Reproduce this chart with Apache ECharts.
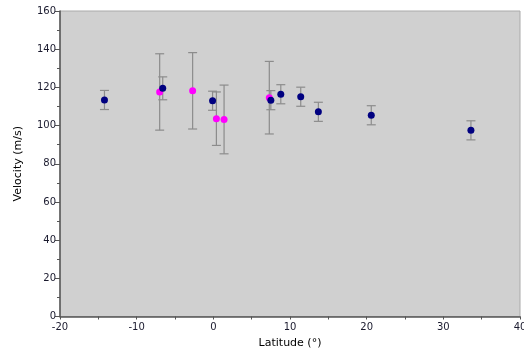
<!DOCTYPE html>
<html><head><meta charset="utf-8">
<script src="https://cdn.jsdelivr.net/npm/echarts@6/dist/echarts.min.js"></script>
<style>html,body{margin:0;padding:0;background:#fff}#c{width:524px;height:360px}</style>
</head><body><div id="c"></div>
<script>
// Navy series
var navyLat = [-14.2, -6.6, -0.1, 7.5, 8.8, 11.4, 13.7, 20.6, 33.6];
var navyVel = [113.4, 119.5, 113.0, 113.3, 116.4, 115.1, 107.2, 105.4, 97.5];
var navyErr = [5, 6, 5, 5, 5, 5, 5, 5, 5];
// Magenta series
var magLat = [-7.0, -2.7, 0.4, 1.4, 7.3];
var magVel = [117.6, 118.2, 103.6, 103.2, 114.6];
var magErr = [20, 20, 14, 18, 19];

var xTicks = [-20, -10, 0, 10, 20, 30, 40];
var yTicks = [0, 20, 40, 60, 80, 100, 120, 140, 160];

function pts(lat, vel){ return lat.map(function(x,i){return [x, vel[i]];}); }
function errData(lat, vel, err){ return lat.map(function(x,i){return [x, vel[i]-err[i], vel[i]+err[i]];}); }

function errSeries(data){
  return {
    type:'custom', data:data, z:1, silent:true,
    renderItem:function(params, api){
      var lo = api.coord([api.value(0), api.value(1)]);
      var hi = api.coord([api.value(0), api.value(2)]);
      var w = 4.5;
      var st = {stroke:'#8c8c8c', lineWidth:1.2};
      return {type:'group', children:[
        {type:'line', shape:{x1:hi[0],y1:hi[1],x2:lo[0],y2:lo[1]}, style:st},
        {type:'line', shape:{x1:hi[0]-w,y1:hi[1],x2:hi[0]+w,y2:hi[1]}, style:st},
        {type:'line', shape:{x1:lo[0]-w,y1:lo[1],x2:lo[0]+w,y2:lo[1]}, style:st}
      ]};
    },
    encode:{x:0, y:[1,2]}
  };
}

var font = 'Tahoma, "DejaVu Sans", sans-serif';
var chart = echarts.init(document.getElementById('c'));
chart.setOption({
  animation:false,
  grid:{left:60, right:4, top:11, bottom:43.5, containLabel:false, outerBoundsMode:'none',
        show:true, backgroundColor:'#d0d0d0', borderColor:'#aaaaaa', borderWidth:1},
  xAxis:{
    type:'value', min:xTicks[0], max:xTicks[xTicks.length-1], interval:10,
    name:'Latitude (°)', nameLocation:'middle', nameGap:21,
    nameTextStyle:{fontFamily:font, fontSize:11, color:'#000'},
    axisLine:{show:true, onZero:false, lineStyle:{color:'#555', width:1.5}},
    axisTick:{show:true, length:3, lineStyle:{color:'#555'}},
    minorTick:{show:true, splitNumber:2, length:3, lineStyle:{color:'#555'}},
    axisLabel:{fontFamily:font, fontSize:10, color:'#1a1a2e', margin:6},
    splitLine:{show:false}
  },
  yAxis:{
    type:'value', min:yTicks[0], max:yTicks[yTicks.length-1], interval:20,
    name:'Velocity (m/s)', nameLocation:'middle', nameGap:36,
    nameTextStyle:{fontFamily:font, fontSize:11, color:'#000'},
    axisLine:{show:true, onZero:false, lineStyle:{color:'#555', width:1.5}},
    axisTick:{show:true, length:5, lineStyle:{color:'#555'}},
    minorTick:{show:true, splitNumber:2, length:3, lineStyle:{color:'#555'}},
    axisLabel:{fontFamily:font, fontSize:10, color:'#1a1a2e', margin:4},
    splitLine:{show:false}
  },
  series:[
    errSeries(errData(navyLat, navyVel, navyErr)),
    errSeries(errData(magLat, magVel, magErr)),
    {type:'scatter', data:pts(navyLat, navyVel), symbolSize:7, itemStyle:{color:'#000080', opacity:1}, z:3},
    {type:'scatter', data:pts(magLat, magVel), symbolSize:7, itemStyle:{color:'#ff00ff', opacity:1}, z:2}
  ]
});
</script></body></html>
